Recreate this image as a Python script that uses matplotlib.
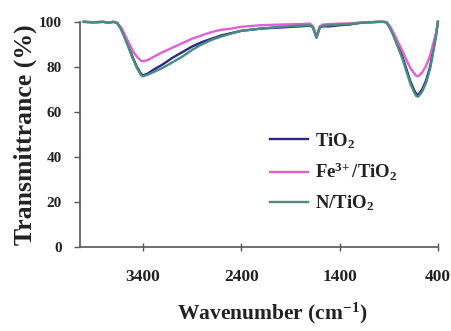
import matplotlib
matplotlib.use("Agg")
import matplotlib.pyplot as plt

plt.rcParams['font.family'] = ['Liberation Serif', 'DejaVu Serif']
plt.rcParams['font.weight'] = 'bold'
plt.rcParams['mathtext.fontset'] = 'custom'
plt.rcParams['mathtext.rm'] = 'Liberation Serif:bold'
plt.rcParams['mathtext.it'] = 'Liberation Serif:bold'
plt.rcParams['mathtext.bf'] = 'Liberation Serif:bold'

wavenumber = [4000, 3900, 3800, 3750, 3700, 3660, 3620, 3580, 3540, 3500, 3460, 3420, 3400,
              3350, 3300, 3200, 3100, 3000, 2900, 2800, 2700, 2600, 2500, 2400, 2200,
              2000, 1800, 1700, 1670, 1650, 1635, 1620, 1600, 1570, 1500, 1400, 1300,
              1200, 1100, 1000, 950, 920, 880, 850, 800, 760, 720, 680, 640, 620, 600,
              560, 520, 480, 450, 420, 400]

tio2 = [100, 99.8, 100, 99.6, 100, 99.5, 97, 93, 88.5, 84, 80, 77, 76.2,
        77, 78.5, 81, 84, 86.5, 89, 91, 92.5, 94, 95, 96, 97,
        97.5, 98, 98.3, 97.5, 95, 93, 95, 97.5, 98, 98, 98.5, 98.8,
        99.5, 99.8, 100, 100, 99.7, 97, 94.5, 89, 84.5, 79, 73.5, 69.5, 68, 67.5,
        70, 74, 80, 87, 94, 100]

fe = [100, 99.8, 100, 99.6, 100, 99.5, 97.5, 94, 90.5, 87, 84.5, 82.8, 82.5,
      83, 84.2, 86.5, 88.5, 90.5, 92.5, 94, 95.5, 96.5, 97, 97.8, 98.5,
      98.8, 99, 99.2, 98, 95.5, 93.5, 95.5, 98, 98.8, 99, 99.2, 99.3,
      99.6, 99.8, 100, 100, 99.8, 97.5, 95, 90.5, 87, 83, 79.5, 77, 76, 75.8,
      77.5, 80.5, 85, 90, 95, 100]

n_tio2 = [100, 99.8, 100, 99.6, 100, 99.5, 96.5, 92.5, 88, 83.5, 79.5, 76.5, 75.8,
          76.5, 77.5, 79.5, 82, 84.5, 87.5, 90, 92, 93.5, 94.8, 96, 97,
          97.8, 98.3, 98.5, 97.5, 95, 93, 95, 97.8, 98.3, 98.5, 98.8, 99,
          99.5, 99.8, 100, 100, 99.6, 96.5, 93.5, 88, 83.5, 78, 72.5, 68.5, 67, 66.8,
          69, 73, 79, 86, 93.5, 100]

series_labels = ['TiO$_2$', 'Fe$^{3\\!+}$/TiO$_2$', 'N/TiO$_2$']
x_ticks = [3400, 2400, 1400, 400]
y_ticks = [0, 20, 40, 60, 80, 100]

fig = plt.figure(figsize=(4.51, 3.31), dpi=100)
ax = fig.add_axes([0.177, 0.254, 0.794, 0.68])

l1, = ax.plot(wavenumber, tio2, color='#2a2a85', lw=1.7, clip_on=False)
l2, = ax.plot(wavenumber, fe, color='#e060d0', lw=1.7, clip_on=False)
l3, = ax.plot(wavenumber, n_tio2, color='#4a8c80', lw=1.7, clip_on=False)

ax.set_xlim(4040, 400)
ax.set_ylim(0, 100)
ax.set_xticks(x_ticks)
ax.set_yticks(y_ticks)
ax.tick_params(axis='x', direction='inout', length=6, width=1, colors='#555555',
               labelcolor='#222222', labelsize=12.5, pad=13)
ax.tick_params(axis='y', direction='out', length=4, width=1, colors='#555555',
               labelcolor='#222222', labelsize=11, pad=9)
for lab in ax.get_xticklabels() + ax.get_yticklabels():
    lab.set_fontweight('bold')

for s in ['top', 'right']:
    ax.spines[s].set_visible(False)
for s in ['left', 'bottom']:
    ax.spines[s].set_color('#555555')
    ax.spines[s].set_linewidth(1.2)

ax.set_xlabel('Wavenumber (cm$^{-1}$)', fontsize=15.5, fontweight='bold', color='#222222')
ax.xaxis.set_label_coords(0.536, -0.24)
ax.set_ylabel('Transmittrance (%)', fontsize=18.5, fontweight='bold', color='#222222')
ax.yaxis.set_label_coords(-0.12, 0.5)

leg = ax.legend([l1, l2, l3], series_labels, loc='upper left', bbox_to_anchor=(0.485, 0.59),
                frameon=False, fontsize=13.5, handlelength=2.0, handletextpad=0.4,
                labelspacing=0.55)
for t in leg.get_texts():
    t.set_fontweight('bold')
    t.set_color('#222222')

fig.savefig('out.png', dpi=100)
